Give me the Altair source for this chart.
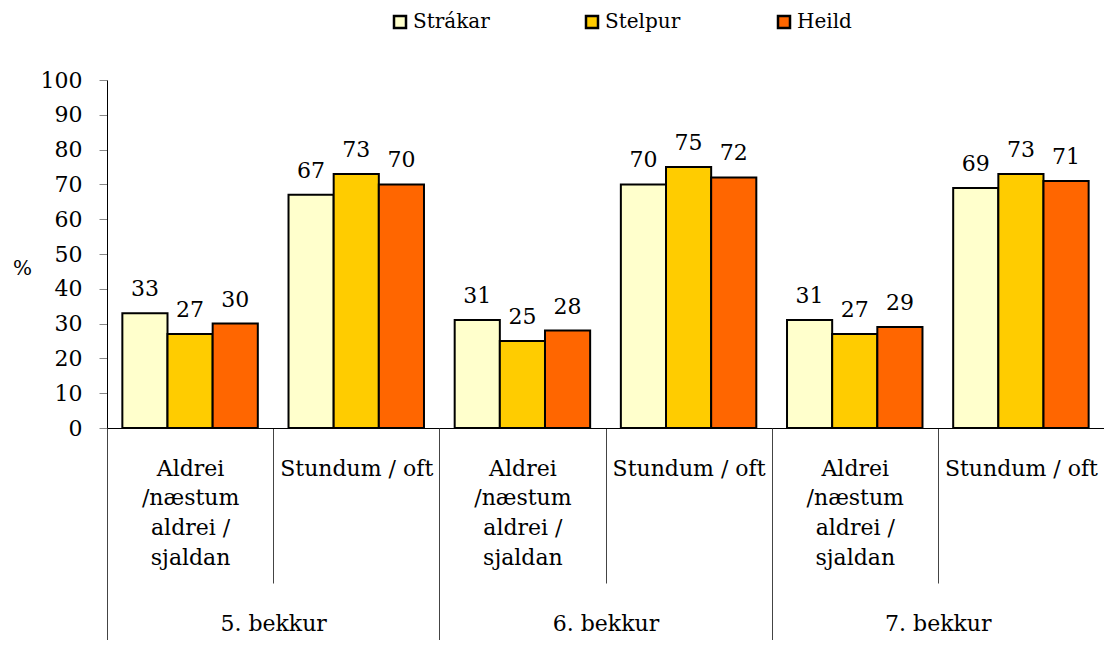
import altair as alt
import pandas as pd

# ---- data ----
grades = ["5. bekkur", "6. bekkur", "7. bekkur"]
answer_lines = [["Aldrei", "/næstum", "aldrei /", "sjaldan"], ["Stundum / oft"]]
series = ["Strákar", "Stelpur", "Heild"]
strakar = [33, 67, 31, 70, 31, 69]
stelpur = [27, 73, 25, 75, 27, 73]
heild = [30, 70, 28, 72, 29, 71]
colors = ["#FFFFCC", "#FFCC00", "#FF6600"]
y_ticks = [0, 10, 20, 30, 40, 50, 60, 70, 80, 90, 100]

cats = [g + "|" + "~".join(a) for g in grades for a in answer_lines]
rows = []
for i, c in enumerate(cats):
    for s, vals in zip(series, [strakar, stelpur, heild]):
        rows.append({"cat": c, "grade": c.split("|")[0], "series": s, "value": vals[i]})
df = pd.DataFrame(rows)
gdf = pd.DataFrame({"grade": grades})

FONT = "DejaVu Serif"
FW = "normal"
FS = 22

x_cat = alt.X(
    "cat:N", sort=cats,
    scale=alt.Scale(domain=cats, paddingInner=0, paddingOuter=0),
    axis=alt.Axis(
        orient="bottom", title=None,
        labelExpr="isString(datum.value) ? split(split(datum.value, '|')[1], '~') : ''",
        labelAngle=0, labelFontSize=FS, labelFont=FONT, labelFontWeight=FW,
        labelColor="black",
        labelBaseline="top", labelLineHeight=29.7, labelPadding=-125,
        labelLimit=400, labelOverlap=False,
        tickBand="extent", tickSize=155, tickColor="#444", tickWidth=1,
        domainColor="black", domainWidth=1,
    ),
)
x_off = alt.XOffset(
    "series:N", sort=series,
    scale=alt.Scale(domain=series, paddingInner=0, paddingOuter=0.34),
)
y_enc = alt.Y(
    "value:Q",
    scale=alt.Scale(domain=[0, 100], nice=False),
    axis=alt.Axis(
        values=y_ticks, title="%", titleAngle=0, titleX=-85, titleY=188,
        titleAlign="center", titleBaseline="middle", titleFontSize=20,
        titleFontWeight="normal", titleFont=FONT, titleColor="black",
        labelFontSize=FS, labelFont=FONT, labelFontWeight=FW,
        labelColor="black", labelPadding=17,
        tickSize=8, tickColor="#888", domainColor="black", grid=False,
    ),
)

bars = alt.Chart(df).mark_bar(stroke="black", strokeWidth=2).encode(
    x=x_cat,
    xOffset=x_off,
    y=y_enc,
    color=alt.Color(
        "series:N", sort=series,
        scale=alt.Scale(domain=series, range=colors),
        legend=alt.Legend(
            orient="none", legendX=283, legendY=-68, direction="horizontal",
            title=None, symbolType="square", symbolSize=144,
            symbolStrokeColor="black", symbolStrokeWidth=2.5,
            labelFont=FONT, labelFontSize=20, labelFontWeight=FW,
            labelColor="black", labelBaseline="middle",
            labelOffset=3, columnPadding=91, gridAlign="all",
        ),
    ),
)

labels = alt.Chart(df).mark_text(
    font=FONT, fontSize=FS, fontWeight=FW, dy=-17, baseline="alphabetic",
    color="black"
).encode(
    x=x_cat,
    xOffset=x_off,
    y=y_enc,
    text="value:Q",
)

grade_layer = alt.Chart(gdf).mark_point(opacity=0).encode(
    x=alt.X(
        "grade:N", sort=grades,
        scale=alt.Scale(domain=grades, paddingInner=0, paddingOuter=0),
        axis=alt.Axis(
            orient="bottom", title=None, labelAngle=0, labelFontSize=FS,
            labelFont=FONT, labelFontWeight=FW, labelColor="black",
            labelBaseline="middle",
            labelPadding=-30, tickBand="extent", tickSize=225,
            tickColor="#444", tickWidth=1, domain=False,
        ),
    )
)

chart = alt.layer(alt.layer(bars, labels), grade_layer).resolve_scale(
    x="independent"
).properties(
    width=997, height=348,
    autosize=alt.AutoSizeParams(type="none"),
    padding={"left": 99, "top": 72, "right": 0, "bottom": 212},
).configure(font=FONT).configure_view(stroke=None)

chart.save("out.html", embed_options={"renderer": "svg", "actions": False})
